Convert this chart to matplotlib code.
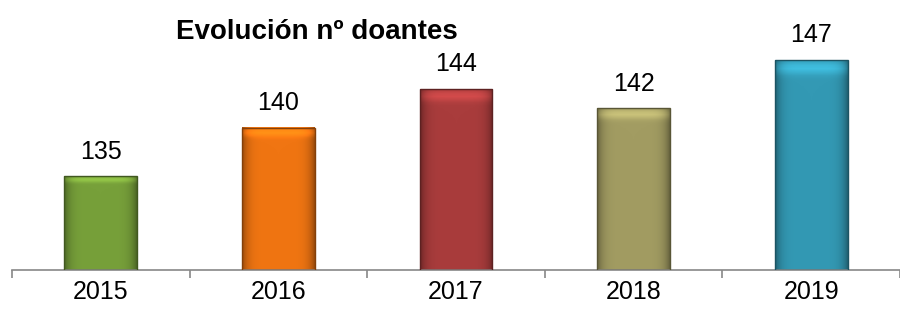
import numpy as np
import matplotlib.pyplot as plt
from matplotlib import font_manager

years = ['2015', '2016', '2017', '2018', '2019']
donors = [135, 140, 144, 142, 147]
colors = ['#77A03A', '#F07512', '#A93C3C', '#A29C62', '#3399B4']

names = {f.name for f in font_manager.fontManager.ttflist}
fam = 'Liberation Sans Narrow' if 'Liberation Sans Narrow' in names else 'Liberation Sans'
plt.rcParams['font.family'] = [fam, 'DejaVu Sans']

fig = plt.figure(figsize=(9, 3.16), dpi=100)
ax = fig.add_axes([0.0133, 0.1456, 0.9867, 0.8544])

ymin, ymax = 125.3, 153.2
width = 0.41


def shaded(color, n=60):
    """horizontal shading, darker at the sides, light strip near the top"""
    rgb = np.array(plt.matplotlib.colors.to_rgb(color))
    xs = np.linspace(-1, 1, n)
    fx = 1.0 - 0.35 * np.abs(xs) ** 6
    ys = np.linspace(0, 1, n)
    fy = 1.0 + 0.25 * np.exp(-((ys - 0.97) / 0.03) ** 2)
    img = fy[:, None, None] * fx[None, :, None] * rgb[None, None, :]
    return np.clip(img, 0, 1)


for i, (v, c) in enumerate(zip(donors, colors)):
    ax.imshow(shaded(c), extent=(i - width / 2, i + width / 2, ymin, v),
              origin='lower', aspect='auto', zorder=2, interpolation='bilinear')
    ax.add_patch(plt.Rectangle((i - width / 2, ymin), width, v - ymin, fill=False,
                               edgecolor=np.array(plt.matplotlib.colors.to_rgb(c)) * 0.55,
                               lw=1, zorder=3))
    ax.text(i, v + 1.3, str(v), ha='center', va='bottom', fontsize=18)

ax.set_xlim(-0.5, len(years) - 0.5)
ax.set_ylim(ymin, ymax)
for s in ['top', 'right', 'left']:
    ax.spines[s].set_visible(False)
ax.spines['bottom'].set_color('#888888')
ax.spines['bottom'].set_linewidth(1.2)
ax.set_yticks([])
ax.set_xticks(np.arange(-0.5, len(years)), minor=False)
ax.set_xticklabels([])
ax.tick_params(axis='x', which='major', length=6, color='#888888', width=1.2)
ax.set_xticks(np.arange(len(years)), minor=True)
ax.set_xticklabels(years, minor=True, fontsize=18)
ax.tick_params(axis='x', which='minor', length=0, pad=7)

fig.text(0.352, 0.9, 'Evolución nº doantes', ha='center', va='center',
         fontsize=20, fontweight='bold')

fig.savefig('out.png', dpi=100)
